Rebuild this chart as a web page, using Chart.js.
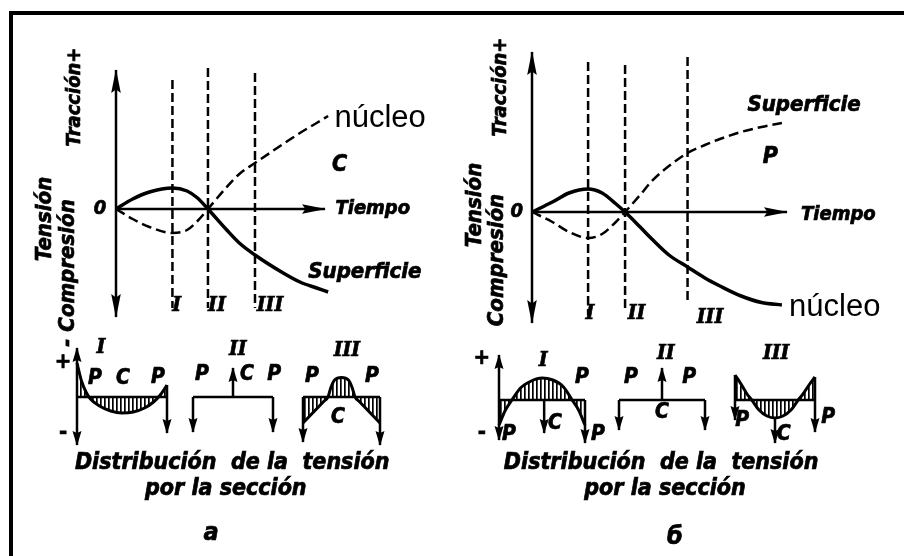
<!DOCTYPE html>
<html>
<head>
<meta charset="utf-8">
<script src="https://cdn.jsdelivr.net/npm/chart.js@4.4.1/dist/chart.umd.min.js"></script>
<style>
html, body { margin: 0; padding: 0; background: #fff; }
#marco { position: relative; width: 904px; height: 556px; background: #fff; }
#marco canvas { display: block; }
#marco .bordeSup { position: absolute; left: 9px; top: 11px; width: 895px; height: 4px; background: #000; }
#marco .bordeIzq { position: absolute; left: 9px; top: 11px; width: 4px; height: 545px; background: #000; }
</style>
</head>
<body>
<div id="marco">
  <canvas id="figura" width="904" height="556"></canvas>
  <div class="bordeSup"></div>
  <div class="bordeIzq"></div>
</div>
<script>
// ---- Datos: panel a (tiempo en unidades del eje, tensión en unidades arbitrarias)
const tiempoA = [0, 0.8, 1.6, 2.7, 3.4, 3.9, 4.4, 5.3, 5.9, 6.65, 8.0, 8.8, 9.6, 10.15];
const superficieA = [0, 1.0, 1.7, 2.1, 1.8, 1.1, 0, -2.1, -3.4, -4.6, -6.4, -7.3, -7.9, -8.3];
const nucleoA = [0, -1.0, -1.8, -2.4, -2.1, -1.2, 0, 2.2, 3.5, 4.6, 6.5, 7.6, 8.6, 9.3];
const seccionesA = [2.7, 4.4, 6.65];
const altoSeccionesA = [12.9, 14.1, 13.6];
const bajoSeccionesA = [-9.9, -9.9, -9.9];
const ejeTensionA = [-10.8, 13.9];
const ejeTiempoA = [0, 10];

// ---- Datos: panel b
const tiempoB = [0, 0.8, 1.45, 2.2, 2.75, 3.25, 3.65, 4.24, 4.7, 5.37, 6.1, 6.78, 7.37, 8.2, 9.0, 9.8];
const nucleoB = [0, 1.0, 1.9, 2.3, 1.9, 0.9, 0, -1.5, -2.7, -4.3, -5.5, -6.6, -7.4, -8.4, -9.05, -9.3];
const superficieB = [0, -1.0, -2.0, -2.6, -2.2, -1.1, 0, 1.7, 3.1, 4.6, 5.9, 6.7, 7.3, 8.0, 8.5, 8.9];
const seccionesB = [2.2, 3.65, 6.1];
const altoSeccionesB = [15.0, 14.7, 15.5];
const bajoSeccionesB = [-10.3, -10.0, -9.0];
const ejeTensionB = [-11.1, 16.0];
const ejeTiempoB = [0, 10];

// ---- Distribución de la tensión por la sección (s: -1 superficie, 0 centro, 1 superficie)
const sAI = [-1, -0.9, -0.8, -0.7, -0.5, -0.25, 0, 0.25, 0.5, 0.7, 0.85, 1];
const tensAI = [3.4, 1.6, 0.5, -0.2, -0.9, -1.4, -1.6, -1.5, -1.1, -0.5, 0.2, 1.2];
const sAIII = [-1, -0.8, -0.6, -0.45, -0.35, -0.28, -0.18, 0, 0.18, 0.28, 0.35, 0.45, 0.6, 0.8, 1];
const tensAIII = [-2.6, -1.8, -1.0, -0.4, 0, 0.9, 1.7, 1.95, 1.7, 0.9, 0, -0.4, -1.0, -1.8, -2.6];
const sBI = [-1, -0.85, -0.7, -0.5, -0.25, 0, 0.25, 0.5, 0.7, 0.85, 1];
const tensBI = [-2.5, -1.0, 0, 1.2, 1.9, 2.2, 2.0, 1.3, 0, -1.0, -2.5];
const sBIII = [-1, -0.85, -0.7, -0.58, -0.4, -0.2, 0, 0.2, 0.4, 0.58, 0.7, 0.85, 1];
const tensBIII = [2.5, 1.6, 0.6, 0, -1.0, -1.6, -1.8, -1.6, -1.0, 0, 0.6, 1.5, 2.3];

// flechas: [s, desde, hasta]
const flechasAI = [[-1, 0, 4.9], [-1, 0, -4.8], [1, 1.2, -3.6]];
const flechasAII = [[0, 0, 2.9], [-1, 0, -3.5], [1, 0, -3.5]];
const flechasAIII = [[-1, 0, -4.5], [1, 0, -4.8]];
const flechasBI = [[-1, 0, 4.5], [-1, 0, -4.0], [0.05, 0, -3.3], [1, 0, -4.3]];
const flechasBII = [[0, 0, 3.2], [-1, 0, -3.0], [1, 0, -3.0]];
const flechasBIII = [[-1, 2.5, -2.0], [0, -1.8, -4.3], [1, 2.3, -3.2]];

// ---- Ubicación de cada gráfico en el lienzo
const W = 904, H = 556;
function ejeX(px0, pxUnidad) {
    return { type: 'linear', axis: 'x', display: false, min: -px0 / pxUnidad, max: (W - px0) / pxUnidad };
}
function ejeY(py0, pxUnidad) {
    return { type: 'linear', axis: 'y', display: false, min: -(H - py0) / pxUnidad, max: py0 / pxUnidad };
}
const escalas = {
    xa: ejeX(116, 20.9), ya: ejeY(209, 10),
    xb: ejeX(532, 25.5), yb: ejeY(212, 10),
    xAI: ejeX(122, 45), xAII: ejeX(233, 40), xAIII: ejeX(341.5, 38.5),
    xBI: ejeX(542, 43), xBII: ejeX(662, 43), xBIII: ejeX(775, 40),
    ysa: ejeY(397, 10), ysb: ejeY(400, 10)
};

const ctx = document.getElementById('figura').getContext('2d');

// rayado vertical para las áreas
function rayado() {
    const c = document.createElement('canvas');
    c.width = 4; c.height = 4;
    const g = c.getContext('2d');
    g.fillStyle = '#000';
    g.fillRect(0, 0, 1.7, 4);
    return ctx.createPattern(c, 'repeat');
}

function linea(xs, ys, ex, ey, extra) {
    return Object.assign({
        data: xs.map((x, i) => ({ x: x, y: ys[i] })),
        xAxisID: ex, yAxisID: ey,
        showLine: true, borderColor: '#000', borderWidth: 2.5,
        pointRadius: 0, fill: false, tension: 0
    }, extra || {});
}

const flechaEje = { largo: 23, ancho: 4.8 };
const flechaSec = { largo: 14, ancho: 4.5 };

const datasets = [];

// Panel a
datasets.push(linea([0, 0], ejeTensionA, 'xa', 'ya', { flecha: Object.assign({ ambos: true }, flechaEje) }));
datasets.push(linea(ejeTiempoA, [0, 0], 'xa', 'ya', { flecha: flechaEje }));
seccionesA.forEach((t, i) => datasets.push(linea([t, t], [altoSeccionesA[i], bajoSeccionesA[i]], 'xa', 'ya', { borderDash: [9, 4] })));
datasets.push(linea(tiempoA, superficieA, 'xa', 'ya', { borderWidth: 3.5, cubicInterpolationMode: 'monotone' }));
datasets.push(linea(tiempoA, nucleoA, 'xa', 'ya', { borderWidth: 2.5, borderDash: [10, 5], cubicInterpolationMode: 'monotone' }));

// Panel b
datasets.push(linea([0, 0], ejeTensionB, 'xb', 'yb', { flecha: Object.assign({ ambos: true }, flechaEje) }));
datasets.push(linea(ejeTiempoB, [0, 0], 'xb', 'yb', { flecha: flechaEje }));
seccionesB.forEach((t, i) => datasets.push(linea([t, t], [altoSeccionesB[i], bajoSeccionesB[i]], 'xb', 'yb', { borderDash: [9, 4] })));
datasets.push(linea(tiempoB, nucleoB, 'xb', 'yb', { borderWidth: 3.5, cubicInterpolationMode: 'monotone' }));
datasets.push(linea(tiempoB, superficieB, 'xb', 'yb', { borderWidth: 2.5, borderDash: [10, 5], cubicInterpolationMode: 'monotone' }));

// Secciones
const patron = rayado();
function seccion(ex, ey, s, tens, flechas) {
    datasets.push(linea([-1, 1], [0, 0], ex, ey, { borderWidth: 2.5 }));
    if (s) {
        datasets.push(linea(s, tens, ex, ey, {
            borderWidth: 3, cubicInterpolationMode: 'monotone',
            fill: 'origin', backgroundColor: patron
        }));
    }
    flechas.forEach(f => datasets.push(linea([f[0], f[0]], [f[1], f[2]], ex, ey, { borderWidth: 2.5, flecha: flechaSec })));
}
seccion('xAI', 'ysa', sAI, tensAI, flechasAI);
seccion('xAII', 'ysa', null, null, flechasAII);
seccion('xAIII', 'ysa', sAIII, tensAIII, flechasAIII);
seccion('xBI', 'ysb', sBI, tensBI, flechasBI);
seccion('xBII', 'ysb', null, null, flechasBII);
seccion('xBIII', 'ysb', sBIII, tensBIII, flechasBIII);

// ---- Textos
const FAM = '"DejaVu Sans Condensed", "DejaVu Sans", sans-serif';
const negrita = px => 'italic bold ' + px + 'px ' + FAM;
const romano = px => 'italic bold ' + px + 'px "DejaVu Serif Condensed", "DejaVu Serif", serif';
const nucleoFuente = '31px "Liberation Sans", Arial, sans-serif';
const signo = 'bold 22px ' + FAM;

const etiquetas = [
    // panel a
    { t: '0', ex: 'xa', ey: 'ya', x: -0.77, y: 0, f: negrita(20) },
    { t: 'Tiempo', ex: 'xa', ey: 'ya', x: 10.5, y: 0, f: negrita(20), a: 'left' },
    { t: 'núcleo', ex: 'xa', ey: 'ya', x: 10.45, y: 8.2, f: nucleoFuente, a: 'left', b: 'alphabetic', fino: true },
    { t: 'C', ex: 'xa', ey: 'ya', x: 10.7, y: 4.4, f: negrita(23) },
    { t: 'Superficie', ex: 'xa', ey: 'ya', x: 9.2, y: -6.3, f: negrita(22), a: 'left' },
    { t: 'I', ex: 'xa', ey: 'ya', x: 2.9, y: -9.7, f: romano(21) },
    { t: 'II', ex: 'xa', ey: 'ya', x: 4.83, y: -9.7, f: romano(21) },
    { t: 'III', ex: 'xa', ey: 'ya', x: 7.37, y: -9.7, f: romano(21) },
    { t: 'Tensión', ex: 'xa', ey: 'ya', x: -3.4, y: -1.0, f: negrita(22), r: true },
    { t: '- Compresión', ex: 'xa', ey: 'ya', x: -2.3, y: -6.4, f: negrita(22), r: true },
    { t: 'Tracción+', ex: 'xa', ey: 'ya', x: -1.96, y: 11.2, f: negrita(20), r: true },
    // panel b
    { t: '0', ex: 'xb', ey: 'yb', x: -0.6, y: 0, f: negrita(20) },
    { t: 'Tiempo', ex: 'xb', ey: 'yb', x: 10.55, y: -0.3, f: negrita(20), a: 'left' },
    { t: 'Superficie', ex: 'xb', ey: 'yb', x: 8.45, y: 10.7, f: negrita(22), a: 'left' },
    { t: 'P', ex: 'xb', ey: 'yb', x: 9.35, y: 5.5, f: negrita(23) },
    { t: 'núcleo', ex: 'xb', ey: 'yb', x: 10.08, y: -10.4, f: nucleoFuente, a: 'left', b: 'alphabetic', fino: true },
    { t: 'I', ex: 'xb', ey: 'yb', x: 2.27, y: -10.2, f: romano(21) },
    { t: 'II', ex: 'xb', ey: 'yb', x: 4.1, y: -10.2, f: romano(21) },
    { t: 'III', ex: 'xb', ey: 'yb', x: 6.98, y: -10.6, f: romano(21) },
    { t: 'Tensión', ex: 'xb', ey: 'yb', x: -2.24, y: 0.7, f: negrita(22), r: true },
    { t: 'Compresión', ex: 'xb', ey: 'yb', x: -1.37, y: -4.8, f: negrita(22), r: true },
    { t: 'Tracción+', ex: 'xb', ey: 'yb', x: -1.22, y: 12.5, f: negrita(20), r: true },
    // secciones a
    { t: '+', ex: 'xAI', ey: 'ysa', x: -1.31, y: 3.5, f: signo },
    { t: '-', ex: 'xAI', ey: 'ysa', x: -1.31, y: -3.6, f: signo },
    { t: 'I', ex: 'xAI', ey: 'ysa', x: -0.47, y: 4.9, f: romano(21) },
    { t: 'P', ex: 'xAI', ey: 'ysa', x: -0.6, y: 1.8, f: negrita(21) },
    { t: 'C', ex: 'xAI', ey: 'ysa', x: 0.02, y: 1.8, f: negrita(21) },
    { t: 'P', ex: 'xAI', ey: 'ysa', x: 0.8, y: 1.9, f: negrita(21) },
    { t: 'II', ex: 'xAII', ey: 'ysa', x: 0.12, y: 4.7, f: romano(21) },
    { t: 'P', ex: 'xAII', ey: 'ysa', x: -0.78, y: 2.2, f: negrita(21) },
    { t: 'C', ex: 'xAII', ey: 'ysa', x: 0.35, y: 2.2, f: negrita(21) },
    { t: 'P', ex: 'xAII', ey: 'ysa', x: 1.03, y: 2.2, f: negrita(21) },
    { t: 'III', ex: 'xAIII', ey: 'ysa', x: 0.14, y: 4.6, f: romano(21) },
    { t: 'P', ex: 'xAIII', ey: 'ysa', x: -0.77, y: 2.0, f: negrita(21) },
    { t: 'P', ex: 'xAIII', ey: 'ysa', x: 0.79, y: 2.0, f: negrita(21) },
    { t: 'C', ex: 'xAIII', ey: 'ysa', x: -0.09, y: -2.1, f: negrita(21) },
    { t: 'Distribución  de la  tensión', ex: 'xAII', ey: 'ysa', x: -0.02, y: -6.6, f: negrita(23) },
    { t: 'por la sección', ex: 'xAII', ey: 'ysa', x: -0.18, y: -9.2, f: negrita(23) },
    { t: 'a', ex: 'xAII', ey: 'ysa', x: -0.55, y: -13.6, f: negrita(25) },
    // secciones b
    { t: '+', ex: 'xBI', ey: 'ysb', x: -1.40, y: 4.2, f: signo },
    { t: '-', ex: 'xBI', ey: 'ysb', x: -1.40, y: -3.3, f: signo },
    { t: 'I', ex: 'xBI', ey: 'ysb', x: 0.03, y: 3.9, f: romano(21) },
    { t: 'P', ex: 'xBI', ey: 'ysb', x: 0.93, y: 2.2, f: negrita(21) },
    { t: 'P', ex: 'xBI', ey: 'ysb', x: -0.77, y: -3.5, f: negrita(21) },
    { t: 'C', ex: 'xBI', ey: 'ysb', x: 0.3, y: -2.4, f: negrita(21) },
    { t: 'P', ex: 'xBI', ey: 'ysb', x: 1.3, y: -3.5, f: negrita(21) },
    { t: 'II', ex: 'xBII', ey: 'ysb', x: 0.09, y: 4.6, f: romano(21) },
    { t: 'P', ex: 'xBII', ey: 'ysb', x: -0.72, y: 2.2, f: negrita(21) },
    { t: 'P', ex: 'xBII', ey: 'ysb', x: 0.63, y: 2.2, f: negrita(21) },
    { t: 'C', ex: 'xBII', ey: 'ysb', x: 0, y: -1.3, f: negrita(21) },
    { t: 'III', ex: 'xBIII', ey: 'ysb', x: 0.03, y: 4.6, f: romano(21) },
    { t: 'P', ex: 'xBIII', ey: 'ysb', x: -0.82, y: -2.1, f: negrita(21) },
    { t: 'C', ex: 'xBIII', ey: 'ysb', x: 0.22, y: -3.5, f: negrita(21) },
    { t: 'P', ex: 'xBIII', ey: 'ysb', x: 1.33, y: -1.8, f: negrita(21) },
    { t: 'Distribución  de la  tensión', ex: 'xBII', ey: 'ysb', x: -0.02, y: -6.3, f: negrita(23) },
    { t: 'por la sección', ex: 'xBII', ey: 'ysb', x: 0.07, y: -8.9, f: negrita(23) },
    { t: 'б', ex: 'xBII', ey: 'ysb', x: 0.3, y: -13.7, f: negrita(25) }
];

// Puntas de flecha al final de las líneas marcadas
const puntasFlecha = {
    id: 'puntasFlecha',
    afterDatasetsDraw(chart) {
        const c = chart.ctx;
        chart.data.datasets.forEach((ds, i) => {
            if (!ds.flecha) return;
            const pts = chart.getDatasetMeta(i).data;
            const punta = (a, b) => {
                const ang = Math.atan2(b.y - a.y, b.x - a.x);
                c.save();
                c.translate(b.x, b.y);
                c.rotate(ang);
                c.beginPath();
                c.moveTo(1, 0);
                c.lineTo(-ds.flecha.largo, ds.flecha.ancho);
                c.lineTo(-ds.flecha.largo * 0.85, 0);
                c.lineTo(-ds.flecha.largo, -ds.flecha.ancho);
                c.closePath();
                c.fillStyle = '#000';
                c.fill();
                c.restore();
            };
            punta(pts[pts.length - 2], pts[pts.length - 1]);
            if (ds.flecha.ambos) punta(pts[1], pts[0]);
        });
    }
};

// Textos sobre las escalas de cada gráfico
const textos = {
    id: 'textos',
    afterDraw(chart) {
        const c = chart.ctx;
        etiquetas.forEach(e => {
            const px = chart.scales[e.ex].getPixelForValue(e.x);
            const py = chart.scales[e.ey].getPixelForValue(e.y);
            c.save();
            c.fillStyle = '#000';
            c.strokeStyle = '#000';
            c.lineWidth = 0.7;
            c.font = e.f;
            c.textAlign = e.a || 'center';
            c.textBaseline = e.b || 'middle';
            c.translate(px, py);
            if (e.r) c.rotate(-Math.PI / 2);
            c.fillText(e.t, 0, 0);
            if (!e.fino) c.strokeText(e.t, 0, 0);
            c.restore();
        });
    }
};

new Chart(ctx, {
    type: 'scatter',
    data: { datasets: datasets },
    options: {
        responsive: false,
        animation: false,
        devicePixelRatio: 1,
        events: [],
        layout: { padding: 0 },
        plugins: { legend: { display: false }, tooltip: { enabled: false } },
        scales: escalas
    },
    plugins: [puntasFlecha, textos]
});
</script>
</body>
</html>
